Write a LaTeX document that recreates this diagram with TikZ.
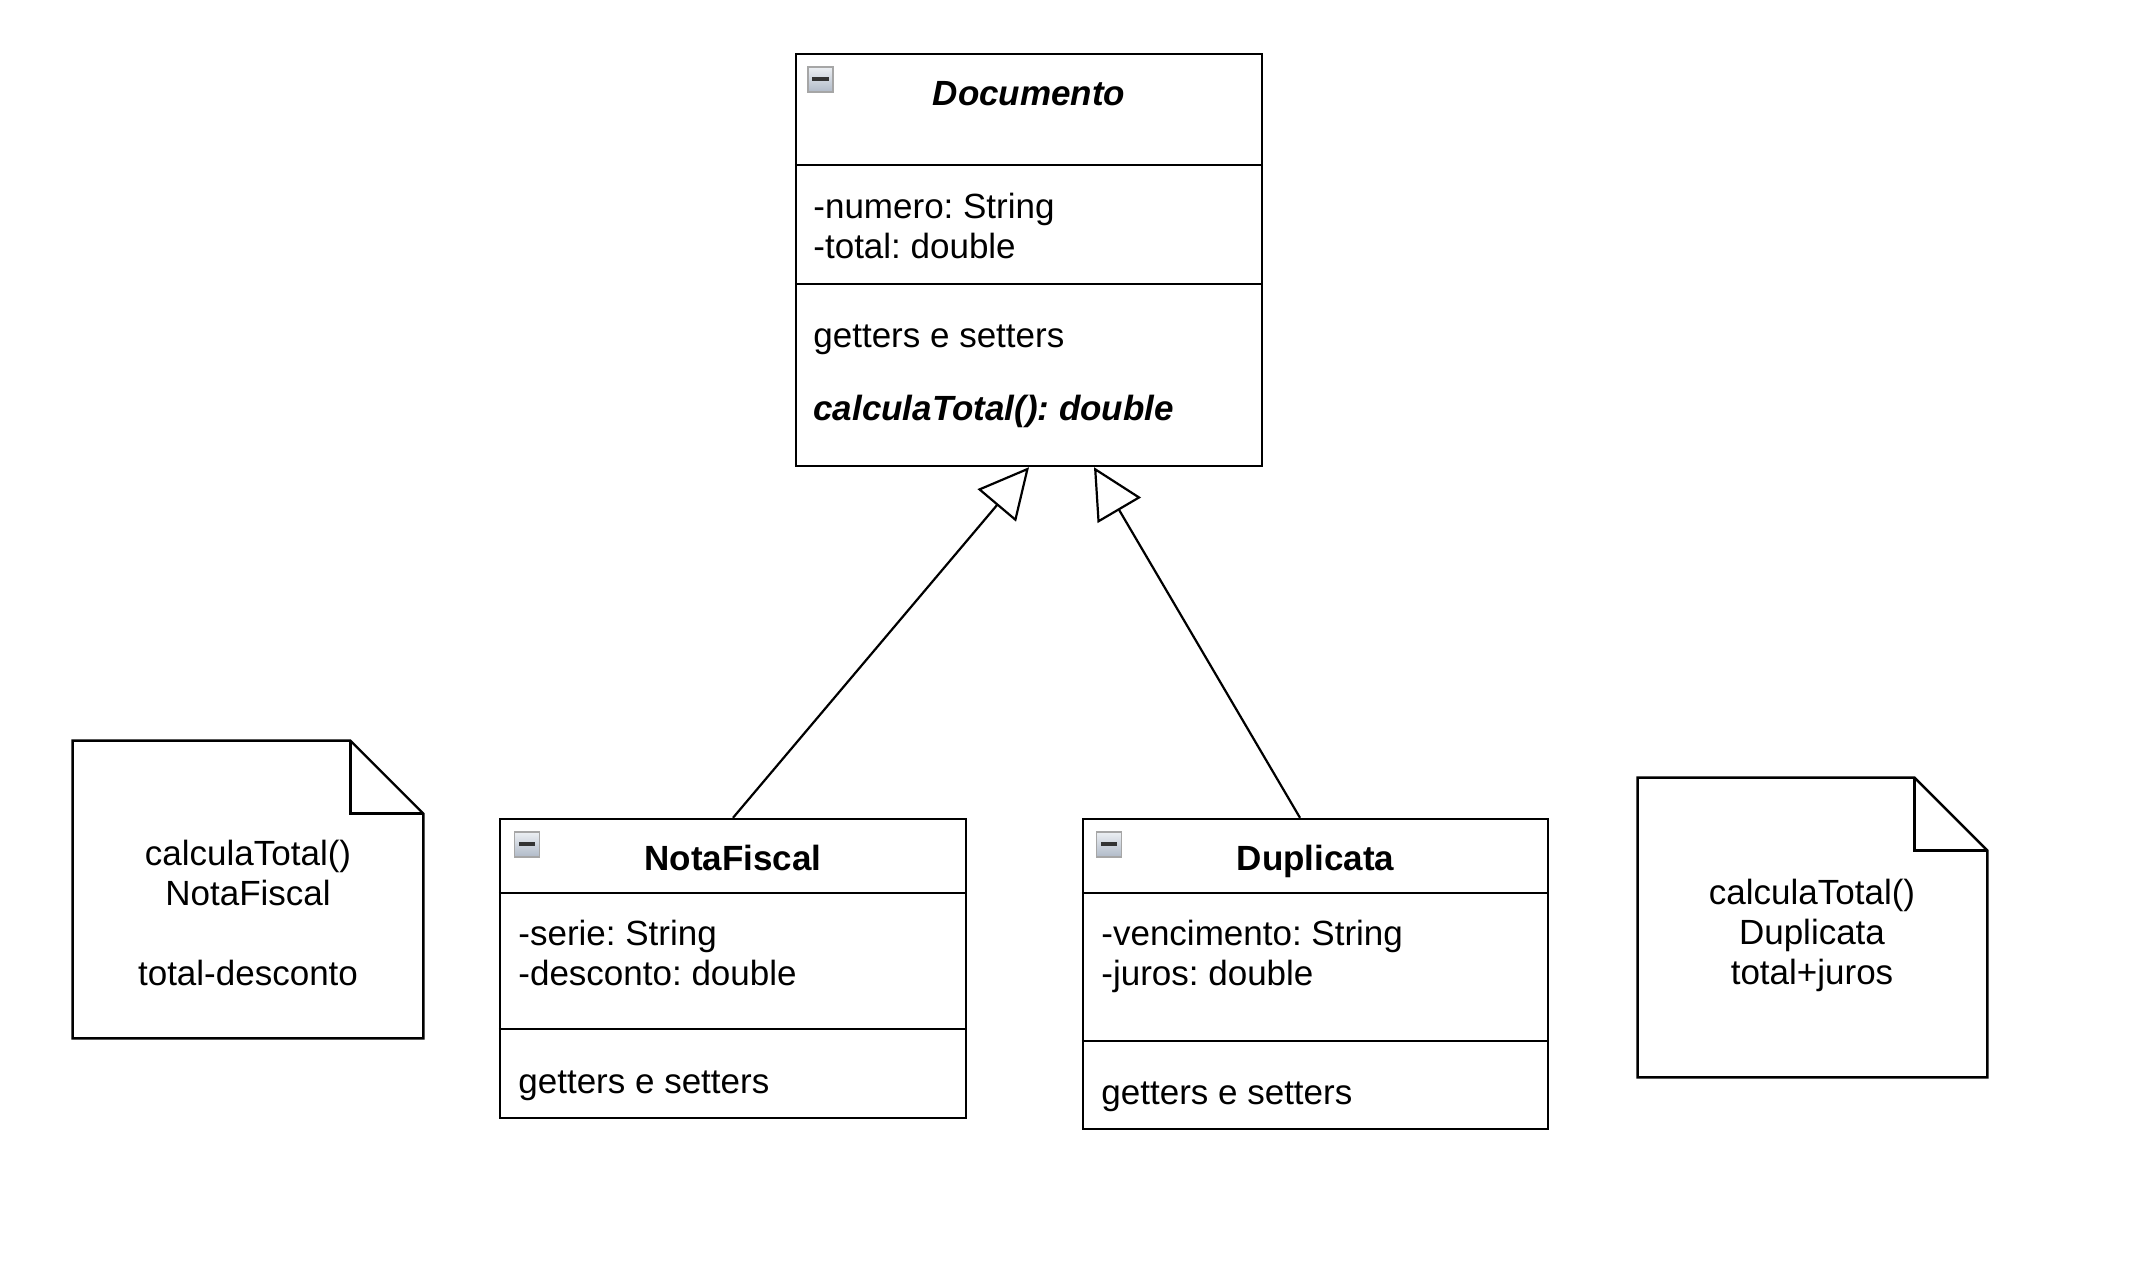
\documentclass[tikz,border=0pt]{standalone}
\usepackage{fontspec}
\setmainfont{Liberation Sans}
\usetikzlibrary{arrows.meta,positioning}
\definecolor{iconhi}{RGB}{236,239,243}
\definecolor{iconlo}{RGB}{176,186,200}
\frenchspacing

\begin{document}
\begin{tikzpicture}[x=0.5pt,y=-0.5pt,
  cls/.style={draw=black,line width=1.2pt,inner sep=0pt},
  ttl/.style={font=\fontsize{17.5}{20}\selectfont\bfseries,inner sep=0pt,anchor=base},
  txt/.style={font=\fontsize{17.5}{20}\selectfont,inner sep=0pt,anchor=base west},
  ntxt/.style={font=\fontsize{17.5}{20}\selectfont,align=center,inner sep=0pt},
  icon/.style={draw=gray!70,line width=0.6pt,minimum size=12.5pt,inner sep=0pt,
    top color=iconhi,bottom color=iconlo,
    path picture={\fill[black!80] ([shift={(2.2pt,-5pt)}]path picture bounding box.north west)
      rectangle ([shift={(-2.2pt,-7pt)}]path picture bounding box.north east);}},
  fold/.style={line width=1.2pt,line join=miter},
  inh/.style={line width=1.1pt,-{Triangle[open,length=25pt,width=25pt,line width=1.1pt]}}]
  \useasboundingbox (0,0) rectangle (2154,1286);

  % abstract class
  \node[cls,minimum width=233pt,minimum height=206pt] (doc) at (1029,260) {};
  \draw[line width=1.2pt] ([yshift=-56pt]doc.north west) -- ([yshift=-56pt]doc.north east);
  \draw[line width=1.2pt] ([yshift=-115.5pt]doc.north west) -- ([yshift=-115.5pt]doc.north east);
  \node[icon] (doc-ic) at (820.5,79.5) {};
  \node[ttl,font=\fontsize{17.5}{20}\selectfont\bfseries\itshape] (doc-t) at (1029,105) {Documento};
  \node[txt] (doc-a1) at (813,218) {-numero: String};
  \node[txt] (doc-a2) at (813,258) {-total: double};
  \node[txt] (doc-m1) at (813,347) {getters e setters};
  \node[txt,font=\fontsize{17.5}{20}\selectfont\bfseries\itshape] (doc-m2) at (813,420) {calculaTotal(): double};

  % subclasses
  \node[cls,minimum width=233pt,minimum height=149.5pt] (nf) at (733,968.5) {};
  \draw[line width=1.2pt] ([yshift=-37.5pt]nf.north west) -- ([yshift=-37.5pt]nf.north east);
  \draw[line width=1.2pt] ([yshift=-105.5pt]nf.north west) -- ([yshift=-105.5pt]nf.north east);
  \node[icon] (nf-ic) at (527,844.5) {};
  \node[ttl] (nf-t) at (733,870) {NotaFiscal};
  \node[txt] (nf-a1) at (518,945) {-serie: String};
  \node[txt] (nf-a2) at (518,985) {-desconto: double};
  \node[txt] (nf-m1) at (518,1093) {getters e setters};

  \node[cls,minimum width=232.5pt,minimum height=155pt] (dup) at (1315.5,974) {};
  \draw[line width=1.2pt] ([yshift=-37.5pt]dup.north west) -- ([yshift=-37.5pt]dup.north east);
  \draw[line width=1.2pt] ([yshift=-111.5pt]dup.north west) -- ([yshift=-111.5pt]dup.north east);
  \node[icon] (dup-ic) at (1109,844.5) {};
  \node[ttl] (dup-t) at (1315.5,870) {Duplicata};
  \node[txt] (dup-a1) at (1101,945) {-vencimento: String};
  \node[txt] (dup-a2) at (1101,985) {-juros: double};
  \node[txt] (dup-m1) at (1101,1104) {getters e setters};

  \draw[inh] (nf.north) -- (doc.south);
  \draw[inh] ([xshift=-7.75pt]dup.north) -- ([xshift=32.5pt]doc.south);

  % notes
  \node[inner sep=0pt,minimum width=175pt,minimum height=148.5pt] (nf-note) at (248,889.5) {};
  \draw[fold] (nf-note.north west) -- ([xshift=-36.5pt]nf-note.north east)
    -- ([yshift=-36.5pt]nf-note.north east) -- (nf-note.south east) -- (nf-note.south west) -- cycle;
  \draw[fold] ([xshift=-36.5pt]nf-note.north east) -- ([shift={(-36.5pt,-36.5pt)}]nf-note.north east)
    -- ([yshift=-36.5pt]nf-note.north east);
  \node[ntxt] (nf-nt) at (248,913) {calculaTotal()\\NotaFiscal\\[20pt]total-desconto};

  \node[inner sep=0pt,minimum width=174.5pt,minimum height=149.5pt] (dup-note) at (1812.5,927.5) {};
  \draw[fold] (dup-note.north west) -- ([xshift=-36.5pt]dup-note.north east)
    -- ([yshift=-36.5pt]dup-note.north east) -- (dup-note.south east) -- (dup-note.south west) -- cycle;
  \draw[fold] ([xshift=-36.5pt]dup-note.north east) -- ([shift={(-36.5pt,-36.5pt)}]dup-note.north east)
    -- ([yshift=-36.5pt]dup-note.north east);
  \node[ntxt] (dup-nt) at (1812,935) {calculaTotal()\\Duplicata\\total+juros};
\end{tikzpicture}
\end{document}
